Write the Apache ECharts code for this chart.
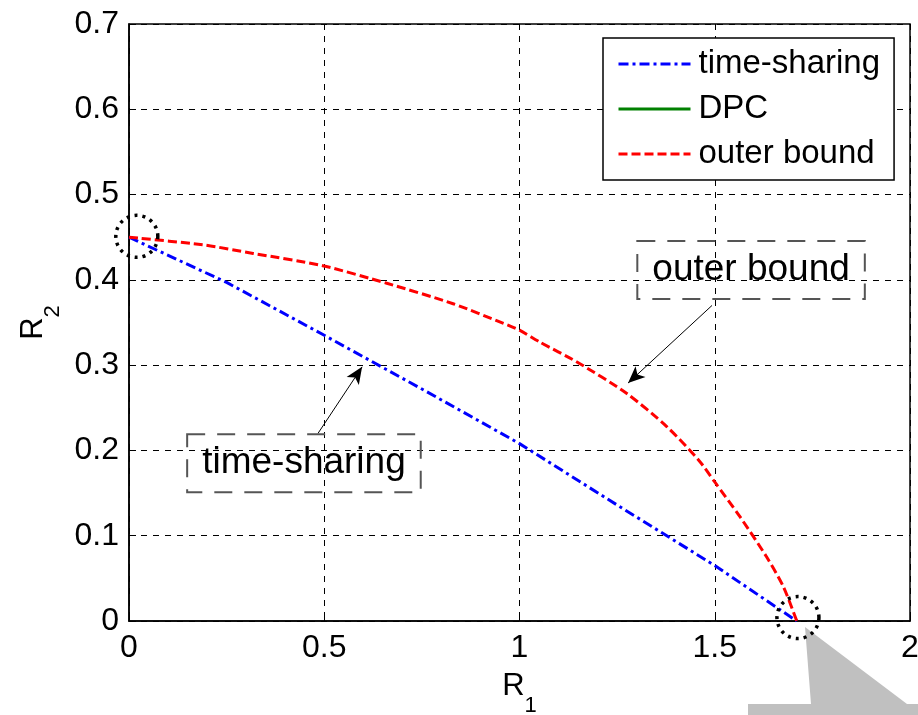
<!DOCTYPE html>
<html>
<head>
<meta charset="utf-8">
<script src="https://cdn.jsdelivr.net/npm/echarts@6.0.0/dist/echarts.min.js"></script>
<style>
  html, body { margin: 0; padding: 0; background: #fff; }
  #main { width: 918px; height: 715px; }
</style>
</head>
<body>
<div id="main"></div>
<script>
// R1 / R2 points
var r1Time = [0, 0.25, 0.5, 0.75, 1.0, 1.25, 1.5, 1.71];
var r2Time = [0.45, 0.397, 0.335, 0.272, 0.208, 0.136, 0.065, 0];

var r1Outer = [0, 0.19, 0.318, 0.496, 0.66, 0.83, 0.959, 1.0, 1.052, 1.146, 1.274, 1.377, 1.46, 1.5, 1.565, 1.633, 1.676, 1.71];
var r2Outer = [0.45, 0.441, 0.431, 0.4166, 0.396, 0.372, 0.349, 0.341, 0.327, 0.304, 0.267, 0.228, 0.188, 0.163, 0.122, 0.075, 0.04, 0];

var seriesNames = ['time-sharing', 'DPC', 'outer bound'];

// annotation anchors (data coords)
var circlePts = [[0.02, 0.451], [1.713, 0.004]];
var outerLabelPt = [1.593, 0.4115];
var outerArrow = [[1.493, 0.370], [1.278, 0.279]];
var timeLabelPt = [0.448, 0.185];
var timeArrow = [[0.484, 0.220], [0.597, 0.298]];

function pairs(xs, ys) {
    var out = [];
    for (var i = 0; i < xs.length; i++) out.push([xs[i], ys[i]]);
    return out;
}

var font = 'Arial, "Liberation Sans", sans-serif';

var boxLabel = function (text) {
    return {
        show: true,
        position: 'inside',
        formatter: text,
        fontFamily: font,
        fontSize: 37,
        color: '#000',
        borderColor: '#555',
        borderWidth: 1,
        borderType: [18, 12],
        padding: [11, 15, 10, 15],
        backgroundColor: 'transparent'
    };
};

var chart = echarts.init(document.getElementById('main'));

var option = {
    backgroundColor: '#fff',
    animation: false,
    textStyle: { fontFamily: font },
    grid: {
        left: 129,
        right: 8,
        top: 24,
        bottom: 94,
        show: true,
        borderColor: '#000',
        borderWidth: 1.5,
        outerBoundsMode: 'none'
    },
    legend: {
        orient: 'vertical',
        left: 603,
        top: 38,
        data: seriesNames,
        borderColor: '#000',
        borderWidth: 1.5,
        backgroundColor: '#fff',
        padding: [8, 14, 8, 14],
        itemWidth: 72,
        itemHeight: 14,
        itemGap: 9,
        itemStyle: { color: 'rgba(0,0,0,0)', borderWidth: 0, opacity: 0 },
        lineStyle: { width: 3 },
        textStyle: { fontFamily: font, fontSize: 33, color: '#000', lineHeight: 36, padding: [0, 0, 0, 3] }
    },
    xAxis: {
        type: 'value',
        min: 0,
        max: 2,
        interval: 0.5,
        name: '{r|R}{s|1}',
        nameLocation: 'middle',
        nameGap: 50,
        nameTextStyle: {
            rich: {
                r: { fontFamily: font, fontSize: 31, color: '#000', lineHeight: 34, verticalAlign: 'top' },
                s: { fontFamily: font, fontSize: 22, color: '#000', lineHeight: 22, verticalAlign: 'top', padding: [24, 0, 0, 0] }
            }
        },
        axisLine: { show: true, onZero: false, lineStyle: { color: '#000', width: 1.5 } },
        axisTick: { show: true, inside: true, length: 7, lineStyle: { color: '#000' } },
        axisLabel: { fontFamily: font, fontSize: 32, color: '#000', margin: 11 },
        splitLine: { show: true, lineStyle: { color: '#000', width: 1, type: [6, 6] } }
    },
    yAxis: {
        type: 'value',
        min: 0,
        max: 0.7,
        interval: 0.1,
        name: '{r|R}{s|2}',
        nameLocation: 'middle',
        nameGap: 74,
        nameTextStyle: {
            rich: {
                r: { fontFamily: font, fontSize: 31, color: '#000', lineHeight: 34, verticalAlign: 'top' },
                s: { fontFamily: font, fontSize: 22, color: '#000', lineHeight: 22, verticalAlign: 'top', padding: [24, 0, 0, 0] }
            }
        },
        axisLine: { show: true, onZero: false, lineStyle: { color: '#000', width: 1.5 } },
        axisTick: { show: true, inside: true, length: 7, lineStyle: { color: '#000' } },
        axisLabel: { fontFamily: font, fontSize: 32, color: '#000', margin: 10 },
        splitLine: { show: true, lineStyle: { color: '#000', width: 1, type: [6, 6] } }
    },
    series: [
        {
            name: seriesNames[0],
            type: 'line',
            data: pairs(r1Time, r2Time),
            showSymbol: false,
            symbol: 'none',
            color: '#0000ff',
            lineStyle: { color: '#0000ff', width: 3, type: [10, 4, 3, 4] },
            z: 3,
            markLine: {
                silent: true,
                symbol: ['none', 'arrow'],
                symbolSize: [11, 17],
                label: { show: false },
                lineStyle: { color: '#000', width: 1, type: 'solid' },
                data: [
                    [{ coord: timeArrow[0] }, { coord: timeArrow[1] }],
                    [{ coord: outerArrow[0] }, { coord: outerArrow[1] }]
                ]
            },
            markPoint: {
                silent: true,
                data: [
                    { coord: circlePts[0], symbol: 'circle', symbolSize: 42,
                      itemStyle: { color: 'rgba(0,0,0,0)', borderColor: '#000', borderWidth: 3.5, borderType: [3, 5] },
                      label: { show: false } },
                    { coord: circlePts[1], symbol: 'circle', symbolSize: 42,
                      itemStyle: { color: 'rgba(0,0,0,0)', borderColor: '#000', borderWidth: 3.5, borderType: [3, 5] },
                      label: { show: false } },
                    { coord: outerLabelPt, symbol: 'rect', symbolSize: 1,
                      itemStyle: { color: 'rgba(0,0,0,0)' }, label: boxLabel('outer bound') },
                    { coord: timeLabelPt, symbol: 'rect', symbolSize: 1,
                      itemStyle: { color: 'rgba(0,0,0,0)' }, label: boxLabel('time-sharing') }
                ]
            }
        },
        {
            name: seriesNames[1],
            type: 'line',
            data: [],
            showSymbol: false,
            symbol: 'none',
            color: '#008000',
            lineStyle: { color: '#008000', width: 3, type: 'solid' }
        },
        {
            name: seriesNames[2],
            type: 'line',
            data: pairs(r1Outer, r2Outer),
            showSymbol: false,
            symbol: 'none',
            smooth: 0.25,
            color: '#ff0000',
            lineStyle: { color: '#ff0000', width: 3, type: [9, 4] },
            z: 4
        }
    ],
    graphic: [
        {
            type: 'polygon',
            silent: true,
            shape: { points: [[805, 627], [811, 704], [748, 704], [748, 715], [918, 715], [918, 704], [907, 704]] },
            style: { fill: '#c0c0c0' }
        }
    ]
};

chart.setOption(option);
</script>
</body>
</html>
